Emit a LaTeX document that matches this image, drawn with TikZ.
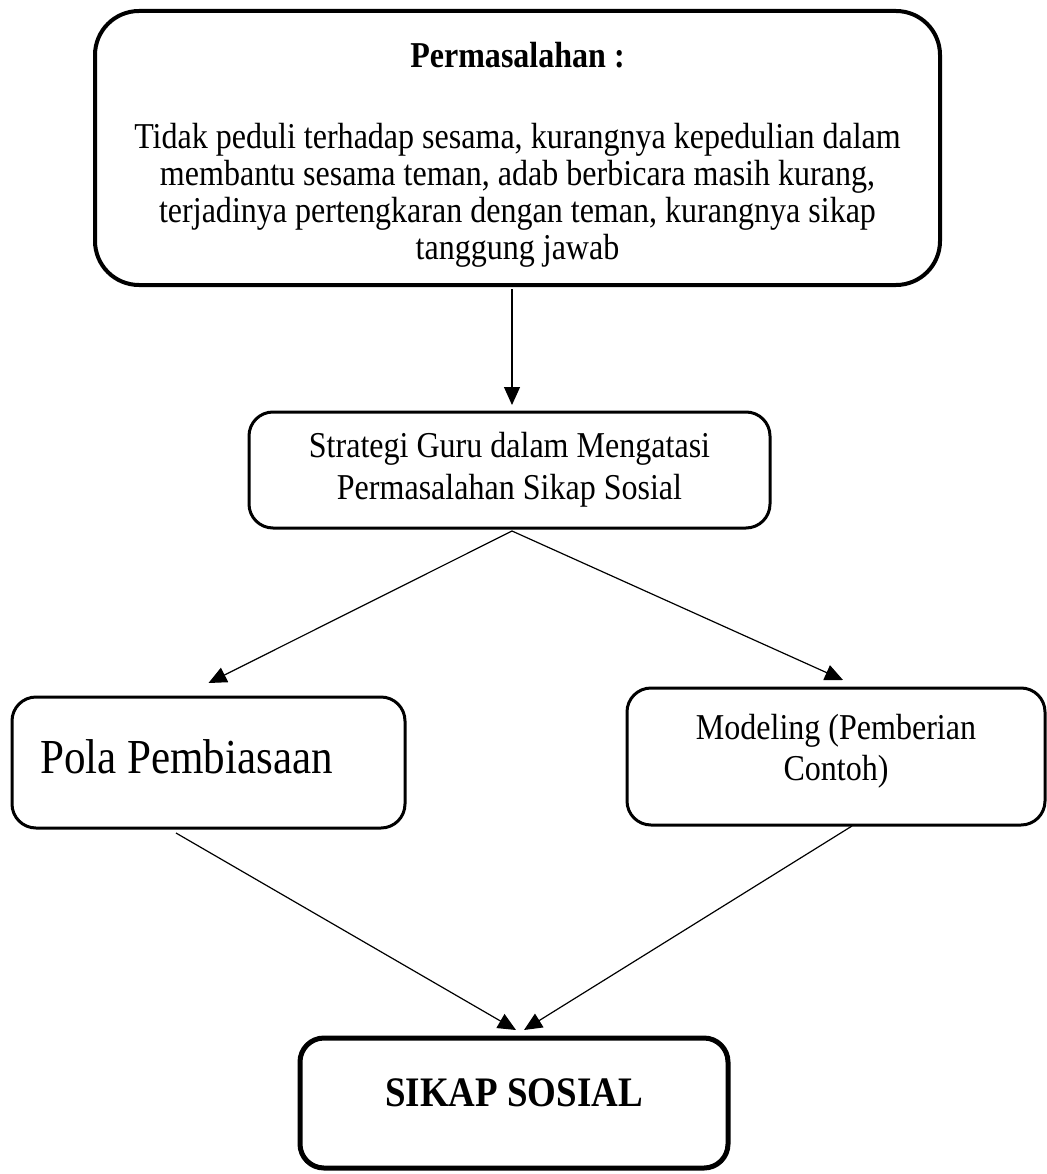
\documentclass[tikz,border=0pt]{standalone}
\usepackage{fontspec}
\setmainfont{Liberation Serif}[FakeStretch=0.88]
\usetikzlibrary{positioning}
\usetikzlibrary{arrows.meta}

\begin{document}
\begin{tikzpicture}
        [x=1pt, y=-1pt,
         box/.style={draw, line width=3pt, rounded corners=24pt, align=center,
                     inner sep=0pt, outer sep=0pt},
         arr/.style={line width=1.2pt, -{Triangle[width=16pt,length=18pt]}}]
      \useasboundingbox (0,0) rectangle (1046,1174);
      \node[box, line width=4pt, rounded corners=44pt, minimum width=845pt, minimum height=274pt,
            font=\fontsize{36.4}{37}\selectfont]  (masalah)  at (517.5,148)
            {\rule{0pt}{39pt}{\bfseries Permasalahan :}\\[44pt]
             Tidak peduli terhadap sesama, kurangnya kepedulian dalam\\
             membantu sesama teman, adab berbicara masih kurang,\\
             terjadinya pertengkaran dengan teman, kurangnya sikap\\
             tanggung jawab};
      \node[box, minimum width=521pt, minimum height=116pt,
            font=\fontsize{36.4}{42}\selectfont]  (strategi)  at (509.5,470)
            {Strategi Guru dalam Mengatasi\\ Permasalahan Sikap Sosial};
      \node[box, minimum width=393pt, minimum height=131pt,
            font=\fontsize{48.9}{50}\selectfont]  (pola)  at (208.5,762.5)
            {\hspace*{-44pt}\raisebox{11pt}{Pola Pembiasaan}};
      \node[box, minimum width=418pt, minimum height=137pt,
            font=\fontsize{36.4}{41}\selectfont, text depth=18pt]  (modeling)  at (836,756.5)
            {Modeling (Pemberian\\ Contoh)};
      \node[box, line width=5pt, minimum width=428pt, minimum height=130pt,
            font=\bfseries\fontsize{42}{44}\selectfont]  (sikap)  at (514,1103)
            {\raisebox{21pt}{SIKAP SOSIAL}};
      \draw [arr] ([xshift=-5.5pt,yshift=-4pt]masalah.south) -- ([xshift=2.5pt,yshift=7pt]strategi.north);
      \draw [arr] ([xshift=2.5pt,yshift=-3pt]strategi.south) -- ([yshift=14pt]pola.north);
      \draw [arr] ([xshift=2.5pt,yshift=-3pt]strategi.south) -- ([xshift=7pt,yshift=8pt]modeling.north);
      \draw [arr] ([xshift=-32.5pt,yshift=-5pt]pola.south) -- ([xshift=2pt,yshift=8pt]sikap.north);
      \draw [arr] ([xshift=16pt,yshift=-1pt]modeling.south) -- ([xshift=10pt,yshift=8pt]sikap.north);
      \end{tikzpicture}
\end{document}
